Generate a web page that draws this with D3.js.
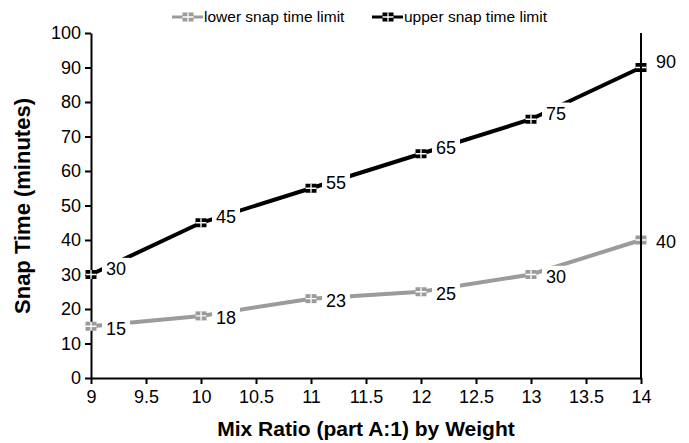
<!DOCTYPE html>
<html>
<head>
<meta charset="utf-8">
<script src="https://cdn.jsdelivr.net/npm/d3@7"></script>
<style>
  body { margin: 0; background: #fff; }
  svg text { font-family: Arial, "Liberation Sans", sans-serif; fill: #000; }
  .axis path, .axis line { stroke: #000; stroke-width: 2; }
  .axis text { font-size: 18px; }
</style>
</head>
<body>
<div id="chart"></div>
<script>
// mix ratio on the x axis, snap times in minutes
var ratios = [9, 10, 11, 12, 13, 14];
var lowerLimit = [15, 18, 23, 25, 30, 40];
var upperLimit = [30, 45, 55, 65, 75, 90];
var xTicks = [9, 9.5, 10, 10.5, 11, 11.5, 12, 12.5, 13, 13.5, 14];
var yTicks = [0, 10, 20, 30, 40, 50, 60, 70, 80, 90, 100];
var seriesNames = ["lower snap time limit", "upper snap time limit"];

var W = 689, H = 443;
var margin = {top: 33, right: 48, bottom: 65, left: 91};
var width = W - margin.left - margin.right,
    height = H - margin.top - margin.bottom;

var svg = d3.select("#chart").append("svg")
    .attr("width", W)
    .attr("height", H);

var g = svg.append("g")
    .attr("transform", "translate(" + margin.left + "," + margin.top + ")");

var x = d3.scaleLinear().domain([9, 14]).range([0, width]);
var y = d3.scaleLinear().domain([0, 100]).range([height, 0]);

var series = [
  {name: seriesNames[0], values: lowerLimit, color: "#9b9b9b", dy: 2},
  {name: seriesNames[1], values: upperLimit, color: "#000000", dy: -6}
];

// axes
g.append("g")
    .attr("class", "axis x")
    .attr("transform", "translate(0," + height + ")")
    .call(d3.axisBottom(x).tickValues(xTicks).tickSize(6).tickSizeOuter(0)
      .tickFormat(function(d) { return d; }))
  .selectAll("text")
    .attr("y", 12)
    .attr("dy", "0.71em");

g.append("g")
    .attr("class", "axis y")
    .call(d3.axisLeft(y).tickValues(yTicks).tickSize(6).tickSizeOuter(0))
  .selectAll("text")
    .attr("x", -10);

var line = d3.line()
    .x(function(d, i) { return x(ratios[i]); })
    .y(function(d) { return y(d); });

series.forEach(function(s) {
  g.append("path")
      .datum(s.values)
      .attr("fill", "none")
      .attr("stroke", s.color)
      .attr("stroke-width", 4)
      .attr("d", line);
});

// data labels with a white box that cuts the line
series.forEach(function(s) {
  var lab = g.selectAll(null)
      .data(s.values)
    .enter().append("g")
      .attr("transform", function(d, i) {
        return "translate(" + (x(ratios[i]) + 15) + "," + (y(d) + s.dy) + ")";
      });
  lab.append("text")
      .attr("font-size", "18px")
      .attr("dy", "0.35em")
      .text(function(d) { return d; });
  lab.each(function() {
    var t = d3.select(this).select("text").node().getBBox();
    d3.select(this).insert("rect", "text")
      .attr("x", t.x - 4).attr("y", t.y - 1)
      .attr("width", t.width + 8).attr("height", t.height + 2)
      .attr("fill", "#fff");
  });
});

function marker(sel, color) {
  sel.append("rect")
      .attr("x", -5.5).attr("y", -4.5)
      .attr("width", 11).attr("height", 9)
      .attr("fill", color);
  sel.append("path")
      .attr("d", "M0,-4.5V4.5M-5.5,0H5.5")
      .attr("stroke", "#fff")
      .attr("stroke-width", 1.3);
}

series.forEach(function(s) {
  g.selectAll(null)
      .data(s.values)
    .enter().append("g")
      .attr("transform", function(d, i) {
        return "translate(" + x(ratios[i]) + "," + y(d) + ")";
      })
      .each(function() { marker(d3.select(this), s.color); });
});

// right frame line
g.append("line")
    .attr("x1", width).attr("x2", width)
    .attr("y1", 0).attr("y2", height)
    .attr("stroke", "#000").attr("stroke-width", 2);

// axis titles
svg.append("text")
    .attr("x", 366)
    .attr("y", 436)
    .attr("text-anchor", "middle")
    .attr("font-size", "21px")
    .attr("font-weight", "bold")
    .text("Mix Ratio (part A:1) by Weight");

svg.append("text")
    .attr("transform", "translate(30,206) rotate(-90)")
    .attr("text-anchor", "middle")
    .attr("font-size", "22px")
    .attr("font-weight", "bold")
    .text("Snap Time (minutes)");

// legend
var legend = svg.append("g").attr("transform", "translate(0,17)");
var legX = [172, 372];
series.forEach(function(s, i) {
  var lg = legend.append("g").attr("transform", "translate(" + legX[i] + ",0)");
  lg.append("line")
      .attr("x1", 0).attr("x2", 31)
      .attr("stroke", s.color).attr("stroke-width", 3);
  var m = lg.append("g").attr("transform", "translate(16,0)");
  marker(m, s.color);
  lg.append("text")
      .attr("x", 32)
      .attr("dy", "0.35em")
      .attr("font-size", "15.5px")
      .text(s.name);
});
</script>
</body>
</html>
